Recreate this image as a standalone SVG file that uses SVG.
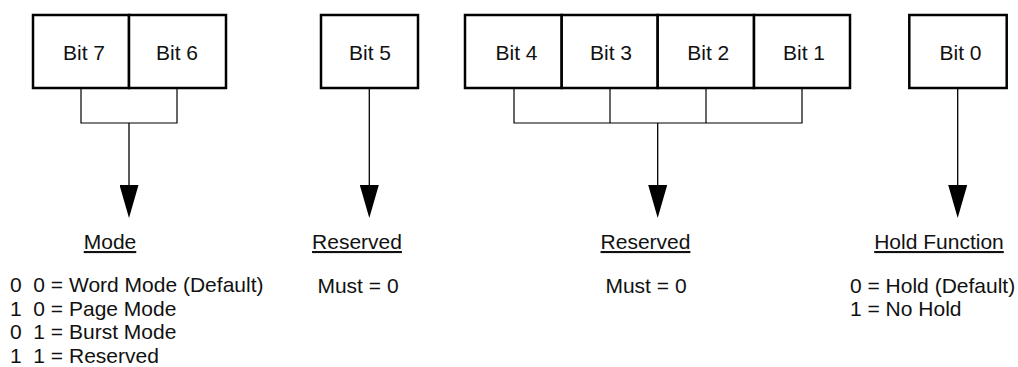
<svg xmlns="http://www.w3.org/2000/svg" width="1018" height="367" viewBox="0 0 1018 367">
<style>
  .cell { fill: #ffffff; stroke: #000000; stroke-width: 2.5; }
  .lbl { font-family: "Liberation Sans", Arial, Helvetica, sans-serif; font-size: 21px; fill: #111111; white-space: pre; }
  .mid { text-anchor: middle; }
  .hd { text-decoration: underline; }
  .wire { fill: none; stroke: #000000; stroke-width: 1.2; }
  .stem { fill: none; stroke: #000000; stroke-width: 1.3; marker-end: url(#arr); }
</style>
<defs>
  <marker id="arr" markerUnits="userSpaceOnUse" markerWidth="33" markerHeight="19" viewBox="0 -9.5 33 19" refX="0" refY="0" orient="auto">
    <path d="M0,-9.5 L33,0 L0,9.5 Z" fill="#000000"/>
  </marker>
</defs>
<rect width="1018" height="367" fill="#ffffff"/>

<g id="connectors">
  <path class="wire" d="M81,88 V123 H177 V88"/>
  <path class="stem" d="M129,123 V185"/>
  <path class="stem" d="M369.3,88 V185"/>
  <path class="wire" d="M514,88 V123 H802 V88"/>
  <path class="wire" d="M610,88 V123"/>
  <path class="wire" d="M706,88 V123"/>
  <path class="stem" d="M657.7,123 V185"/>
  <path class="stem" d="M957.7,88 V185"/>
</g>

<g id="bit7"><rect class="cell" x="33" y="15" width="96" height="73"/><text class="lbl mid" x="84" y="60">Bit 7</text></g>
<g id="bit6"><rect class="cell" x="129" y="15" width="97" height="73"/><text class="lbl mid" x="177" y="60">Bit 6</text></g>
<g id="bit5"><rect class="cell" x="321" y="15" width="97" height="73"/><text class="lbl mid" x="370" y="60">Bit 5</text></g>
<g id="bit4"><rect class="cell" x="465" y="15" width="96.7" height="73"/><text class="lbl mid" x="516.5" y="60">Bit 4</text></g>
<g id="bit3"><rect class="cell" x="561.7" y="15" width="96" height="73"/><text class="lbl mid" x="611" y="60">Bit 3</text></g>
<g id="bit2"><rect class="cell" x="657.7" y="15" width="96.3" height="73"/><text class="lbl mid" x="708.3" y="60">Bit 2</text></g>
<g id="bit1"><rect class="cell" x="754" y="15" width="96" height="73"/><text class="lbl mid" x="804" y="60">Bit 1</text></g>
<g id="bit0"><rect class="cell" x="909.3" y="15" width="97.4" height="73"/><text class="lbl mid" x="960.5" y="60">Bit 0</text></g>

<g id="mode-label">
  <text class="lbl mid hd" x="110" y="249">Mode</text>
  <text class="lbl" x="10" y="292" xml:space="preserve">0  0 = Word Mode (Default)</text>
  <text class="lbl" x="10" y="315.5" xml:space="preserve">1  0 = Page Mode</text>
  <text class="lbl" x="10" y="339" xml:space="preserve">0  1 = Burst Mode</text>
  <text class="lbl" x="10" y="362.5" xml:space="preserve">1  1 = Reserved</text>
</g>
<g id="bit5-label">
  <text class="lbl mid hd" x="357" y="249">Reserved</text>
  <text class="lbl mid" x="358" y="293">Must = 0</text>
</g>
<g id="bits4-1-label">
  <text class="lbl mid hd" x="645.5" y="249">Reserved</text>
  <text class="lbl mid" x="646" y="293">Must = 0</text>
</g>
<g id="hold-label">
  <text class="lbl mid hd" x="939" y="249">Hold Function</text>
  <text class="lbl" x="850" y="293">0 = Hold (Default)</text>
  <text class="lbl" x="850" y="316">1 = No Hold</text>
</g>
</svg>
